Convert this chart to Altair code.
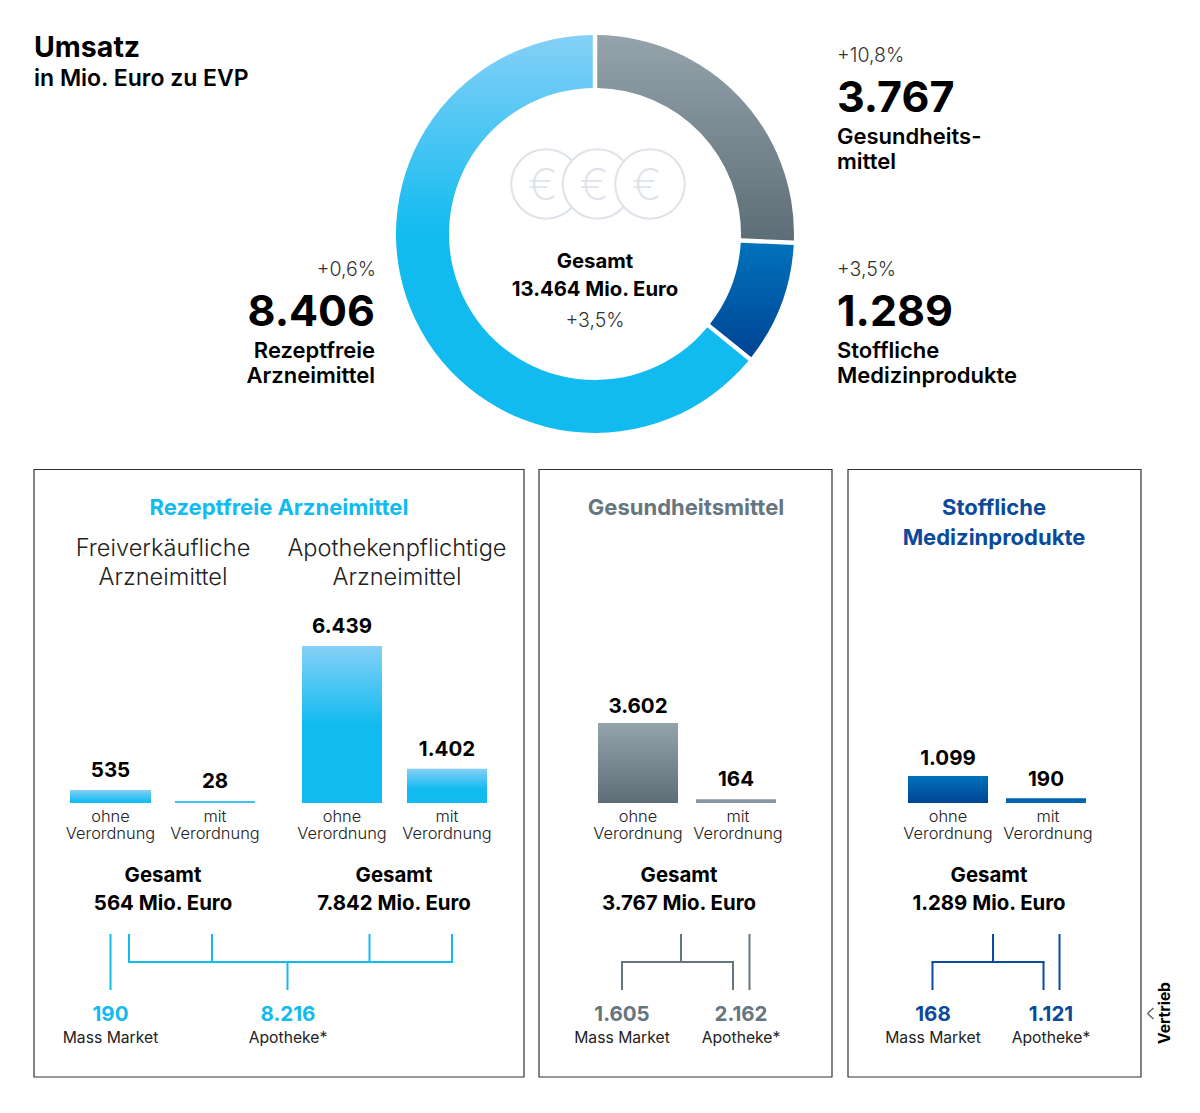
import math
import altair as alt
import pandas as pd

FONT = "Inter"
CYAN, GREY, NAVY = "#11BBF0", "#66767F", "#0B4A9B"

# --- values ---
segments = ["Gesundheitsmittel", "Stoffliche Medizinprodukte", "Rezeptfreie Arzneimittel"]
segment_values = [3767, 1289, 8406]
segment_changes = ["+10,8%", "+3,5%", "+0,6%"]
# share of the ring each segment takes in the picture, in percent
ring_shares = [25.7, 10.1, 64.2]
total_label = "13.464 Mio. Euro"
total_change = "+3,5%"

otc_free = [535, 28]
otc_pharmacy = [6439, 1402]
health_values = [3602, 164]
device_values = [1099, 190]


def fmt(v):
    return f"{v:,}".replace(",", ".")


def off(v):
    return v - 8


layers = []


def T(text, x, y, size, weight=400, color="#000000", align="center", angle=None, **extra):
    kw = {"angle": angle} if angle is not None else {}
    kw.update(extra)
    layers.append(
        alt.Chart(pd.DataFrame({"t": [text]}))
        .mark_text(font=FONT, fontSize=size, fontWeight=weight, color=color,
                   align=align, baseline="alphabetic", **kw)
        .encode(x=alt.value(off(x)), y=alt.value(off(y)), text="t:N")
    )


def R(x1, y1, x2, y2, color, w=2):
    layers.append(
        alt.Chart(pd.DataFrame({"k": [0]}))
        .mark_rule(color=color, strokeWidth=w)
        .encode(x=alt.value(off(x1)), x2=alt.value(off(x2)),
                y=alt.value(off(y1)), y2=alt.value(off(y2)))
    )


def grad(c0, c1, stop=1.0):
    stops = [alt.GradientStop(color=c0, offset=0), alt.GradientStop(color=c1, offset=stop)]
    if stop < 1:
        stops.append(alt.GradientStop(color=c1, offset=1))
    return alt.LinearGradient(gradient="linear", x1=0, x2=0, y1=0, y2=1, stops=stops)


LIGHT = "#85D0F7"
SLATE_A, SLATE_B = "#95A3AB", "#5D6D76"
BLUE_A, BLUE_B = "#0072BC", "#004494"


def panel(x1, x2):
    layers.append(
        alt.Chart(pd.DataFrame({"k": [0]}))
        .mark_rect(fill="white", stroke="#333333", strokeWidth=1.2)
        .encode(x=alt.value(off(x1)), x2=alt.value(off(x2)),
                y=alt.value(off(469.5)), y2=alt.value(off(1077)))
    )


panel(34, 524)
panel(539, 832)
panel(848, 1141)

# --- donut ---
cum = [0, ring_shares[0], ring_shares[0] + ring_shares[1], sum(ring_shares)]
fills = [grad(SLATE_A, SLATE_B), grad(BLUE_A, BLUE_B), grad(LIGHT, CYAN, 0.5)]
theta_scale = alt.Scale(domain=[0, sum(ring_shares)], range=[0, 2 * math.pi])
for i in range(3):
    layers.append(
        alt.Chart(pd.DataFrame({"s": [cum[i]], "e": [cum[i + 1]]}))
        .mark_arc(radius=199, innerRadius=146, padAngle=0.018, fill=fills[i])
        .encode(theta=alt.Theta("s:Q", scale=theta_scale), theta2="e:Q",
                x=alt.value(off(595)), y=alt.value(off(234)))
    )

# --- coins ---
for cx in [546, 597.5, 650]:
    layers.append(
        alt.Chart(pd.DataFrame({"k": [0]}))
        .mark_point(shape="circle", size=4830, filled=False, fill="white", fillOpacity=1,
                    stroke="#DDE3E8", strokeWidth=2, opacity=1)
        .encode(x=alt.value(off(cx)), y=alt.value(off(184)))
    )
    T("€", cx - 3, 200, 44, 200, "#DDE3E8")

# --- headline ---
T("Umsatz", 34, 57, 28.5, 700, align="left")
T("in Mio. Euro zu EVP", 34, 86, 23, 600, align="left")

T(segment_changes[0], 837, 62, 19.5, 300, "#333333", "left")
T(fmt(segment_values[0]), 837, 112, 43, 700, align="left")
T("Gesundheits-", 837, 144, 22, 600, align="left")
T("mittel", 837, 169, 22, 600, align="left")

T(segment_changes[1], 837, 276, 19.5, 300, "#333333", "left")
T(fmt(segment_values[1]), 837, 326, 43, 700, align="left")
T("Stoffliche", 837, 358, 22, 600, align="left")
T("Medizinprodukte", 837, 383, 22, 600, align="left")

T(segment_changes[2], 376, 276, 19.5, 300, "#333333", "right")
T(fmt(segment_values[2]), 375, 326, 43, 700, align="right")
T("Rezeptfreie", 375, 358, 22, 600, align="right")
T("Arzneimittel", 375, 383, 22, 600, align="right")

T("Gesamt", 595, 268, 20.3, 700)
T(total_label, 595, 296, 20.3, 700)
T(total_change, 595, 327, 19.5, 300, "#333333")

# --- panel titles ---
T("Rezeptfreie Arzneimittel", 279, 515, 22, 700, CYAN)
T("Gesundheitsmittel", 686, 515, 22, 700, GREY)
T("Stoffliche", 994, 515, 22, 700, NAVY)
T("Medizinprodukte", 994, 545, 22, 700, NAVY)
T("Freiverkäufliche", 163, 556, 23.6, 300, "#222222")
T("Arzneimittel", 163, 585, 23.6, 300, "#222222")
T("Apothekenpflichtige", 397, 556, 23.6, 300, "#222222")
T("Arzneimittel", 397, 585, 23.6, 300, "#222222")


# --- bars ---
def bars(values, vmax, px, edges, fills_, label_y, text_x, lab_x):
    scale = alt.Scale(domain=[0, vmax], range=[off(803), off(803 - px)])
    for v, (a, b), f, ly, tx, lx in zip(values, edges, fills_, label_y, text_x, lab_x):
        layers.append(
            alt.Chart(pd.DataFrame({"v": [v]}))
            .mark_rect(fill=f)
            .encode(x=alt.value(off(a)), x2=alt.value(off(b)),
                    y=alt.Y("v:Q", scale=scale, axis=None), y2=alt.datum(0))
        )
        T(fmt(v), tx, ly, 20.5, 700)
    T("ohne\nVerordnung", lab_x[0], 822, 16.4, 300, "#222222", lineBreak="\n", lineHeight=17)
    T("mit\nVerordnung", lab_x[1], 822, 16.4, 300, "#222222", lineBreak="\n", lineHeight=17)


bars(otc_free, 6439, 157, [(70, 151), (175, 255)],
     [grad(LIGHT, CYAN, 0.9), "#3CC4F2"], [777, 788], [110.5, 215], [110.5, 215])
# the 28 bar is under one pixel on the shared scale
R(175, 802, 255, 802, "#3CC4F2", 2)
bars(otc_pharmacy, 6439, 157, [(302, 382), (407, 487)],
     [grad(LIGHT, CYAN, 0.5), grad(LIGHT, CYAN, 0.6)], [633, 756], [342, 447], [342, 447])
bars(health_values, 3602, 80, [(598, 678), (696, 776)],
     [grad(SLATE_A, SLATE_B), "#8796A0"], [713, 786], [638, 736], [638, 738])
bars(device_values, 1099, 27, [(908, 988), (1006, 1086)],
     [grad(BLUE_A, BLUE_B), "#0064AF"], [765, 786], [948, 1046], [948, 1048])

# --- panel totals ---
for cx, label in [(163, "564 Mio. Euro"), (394, "7.842 Mio. Euro"),
                  (679, "3.767 Mio. Euro"), (989, "1.289 Mio. Euro")]:
    T("Gesamt", cx, 882, 20.4, 700)
    T(label, cx, 910, 20.4, 700)

# --- brackets ---
R(110.5, 934, 110.5, 990, CYAN)
R(128, 962, 453, 962, CYAN)
for x in [129, 212, 369.5, 452]:
    R(x, 934, x, 962, CYAN)
R(287.5, 962, 287.5, 990, CYAN)

R(681, 934, 681, 962, GREY)
R(621, 962, 734, 962, GREY)
R(622, 962, 622, 990, GREY)
R(733, 962, 733, 990, GREY)
R(749.5, 934, 749.5, 990, GREY)

R(993, 934, 993, 962, NAVY)
R(931.5, 962, 1044.5, 962, NAVY)
R(932.5, 962, 932.5, 990, NAVY)
R(1043.5, 962, 1043.5, 990, NAVY)
R(1059.5, 934, 1059.5, 990, NAVY)

# --- channel split ---
for x, val, lab, col in [
    (110.5, "190", "Mass Market", CYAN), (288, "8.216", "Apotheke*", CYAN),
    (622, "1.605", "Mass Market", GREY), (741, "2.162", "Apotheke*", GREY),
    (933, "168", "Mass Market", NAVY), (1051, "1.121", "Apotheke*", NAVY),
]:
    T(val, x, 1020.5, 20.5, 700, col)
    T(lab, x, 1043, 15.7, 400, "#222222")

# --- footer marker ---
R(1153.5, 1008, 1147.5, 1013.5, "#666666", 1.5)
R(1147.5, 1013.5, 1153.5, 1019, "#666666", 1.5)
T("Vertrieb", 1170, 1013, 15.5, 700, angle=270)

chart = (
    alt.layer(*layers)
    .resolve_scale(y="independent")
    .properties(width=1184, height=1097, padding=0, background="white",
                autosize=alt.AutoSizeParams(type="none"))
    .configure_view(stroke=None)
)
chart.save("out.html", embed_options={"renderer": "svg", "actions": False})
